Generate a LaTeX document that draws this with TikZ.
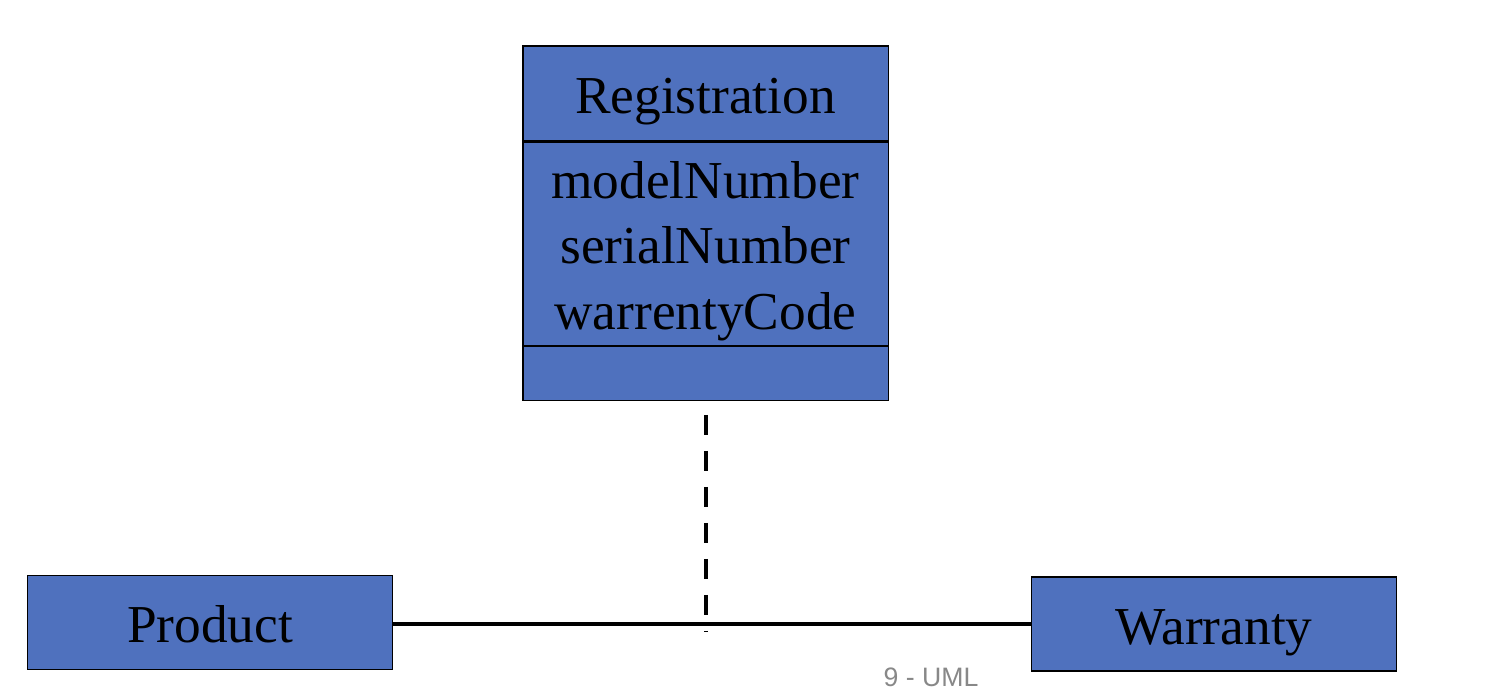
\documentclass[tikz,border=0pt]{standalone}
\usepackage{fontspec}
\setmainfont{Liberation Serif}
\newfontfamily\footfont{Liberation Sans}
\usepackage{xcolor}
\usetikzlibrary{positioning}
\definecolor{clsblue}{RGB}{79,113,190}
\definecolor{footgray}{RGB}{136,136,136}

\begin{document}
\begin{tikzpicture}[x=0.75pt,y=-0.75pt,font=\fontsize{40}{49}\selectfont,node distance=0pt,
  cls/.style={draw,line width=1pt,fill=clsblue,inner sep=0pt,minimum width=274pt,text height=30pt,text depth=0pt,align=center},
  assoc/.style={line width=3pt},
  linkdash/.style={line width=3pt,dash pattern=on 15pt off 12pt}]
\useasboundingbox (0,0) rectangle (1496,692);
% association class
\node[cls,minimum height=71.25pt] (reg) at (705.5,93.5) {Registration};
\node[cls,minimum height=152.25pt,text height=130pt,text depth=2pt,below=of reg] (attr) {modelNumber\\serialNumber\\warrentyCode};
\node[cls,minimum height=40.5pt,below=of attr] (ops) {};
% classes
\node[cls,minimum height=70.5pt] (prod) at (210,622.5) {Product};
\node[cls,minimum height=70.5pt] (warr) at (1214,624) {Warranty};
\coordinate (mid) at (706,624);
\draw[assoc] (prod.east |- mid) -- (warr.west |- mid);
\draw[linkdash] ([yshift=-10.1pt]ops.south -| mid) -- ([yshift=-5.25pt]mid);
\node[font=\footfont\fontsize{20}{24}\selectfont,text=footgray,anchor=base] (page) at (931,686) {9 - UML};
\end{tikzpicture}
\end{document}
